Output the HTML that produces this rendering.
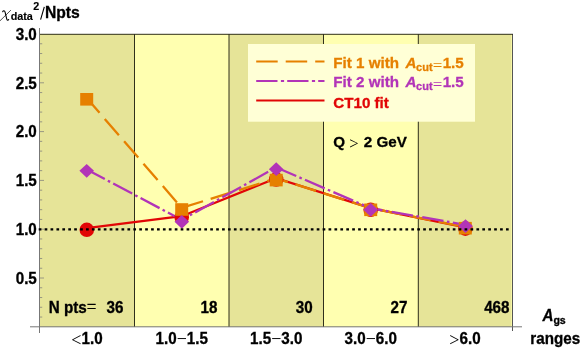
<!DOCTYPE html>
<html><head><meta charset="utf-8">
<style>
html,body{margin:0;padding:0;background:#fff;}
svg{display:block;will-change:transform;}
text{font-family:"Liberation Sans",sans-serif;font-weight:bold;fill:#000;stroke:#000;stroke-width:0.3px;}
.m{font-family:"Liberation Serif",serif;font-weight:normal;stroke:none;}
</style></head><body>
<svg width="581" height="348" viewBox="0 0 581 348">
<rect width="581" height="348" fill="#fff"/>
<!-- bands -->
<rect x="40" y="34" width="94.5" height="293" fill="#e6e498"/>
<rect x="134.5" y="34" width="94.5" height="293" fill="#ffffb0"/>
<rect x="229" y="34" width="94.5" height="293" fill="#e6e498"/>
<rect x="323.5" y="34" width="94.5" height="293" fill="#ffffb0"/>
<rect x="418" y="34" width="94.5" height="293" fill="#e6e498"/>
<rect x="511" y="34" width="1.2" height="293" fill="#f6f6a6"/>
<!-- dividers -->
<g stroke="#30301c" stroke-width="1">
<line x1="134.5" y1="34" x2="134.5" y2="327"/>
<line x1="229" y1="34" x2="229" y2="327"/>
<line x1="323.5" y1="34" x2="323.5" y2="327"/>
<line x1="418.3" y1="34" x2="418.3" y2="327"/>
<line x1="512.5" y1="34" x2="512.5" y2="331" stroke="#555"/>
<line x1="40" y1="34.3" x2="513" y2="34.3"/>
</g>
<!-- axes -->
<g stroke="#777" stroke-width="1">
<line x1="39.5" y1="28" x2="39.5" y2="333"/>
<line x1="30" y1="326.8" x2="522" y2="326.8"/>
</g>
<g stroke="#777" stroke-width="1" stroke-opacity="0.7"><line x1="40" x2="42.2" y1="317.04" y2="317.04"/><line x1="40" x2="42.2" y1="307.28" y2="307.28"/><line x1="40" x2="42.2" y1="297.52" y2="297.52"/><line x1="40" x2="42.2" y1="287.76" y2="287.76"/><line x1="40" x2="44" y1="278.00" y2="278.00"/><line x1="40" x2="42.2" y1="268.24" y2="268.24"/><line x1="40" x2="42.2" y1="258.48" y2="258.48"/><line x1="40" x2="42.2" y1="248.72" y2="248.72"/><line x1="40" x2="42.2" y1="238.96" y2="238.96"/><line x1="40" x2="44" y1="229.20" y2="229.20"/><line x1="40" x2="42.2" y1="219.44" y2="219.44"/><line x1="40" x2="42.2" y1="209.68" y2="209.68"/><line x1="40" x2="42.2" y1="199.92" y2="199.92"/><line x1="40" x2="42.2" y1="190.16" y2="190.16"/><line x1="40" x2="44" y1="180.40" y2="180.40"/><line x1="40" x2="42.2" y1="170.64" y2="170.64"/><line x1="40" x2="42.2" y1="160.88" y2="160.88"/><line x1="40" x2="42.2" y1="151.12" y2="151.12"/><line x1="40" x2="42.2" y1="141.36" y2="141.36"/><line x1="40" x2="44" y1="131.60" y2="131.60"/><line x1="40" x2="42.2" y1="121.84" y2="121.84"/><line x1="40" x2="42.2" y1="112.08" y2="112.08"/><line x1="40" x2="42.2" y1="102.32" y2="102.32"/><line x1="40" x2="42.2" y1="92.56" y2="92.56"/><line x1="40" x2="44" y1="82.80" y2="82.80"/><line x1="40" x2="42.2" y1="73.04" y2="73.04"/><line x1="40" x2="42.2" y1="63.28" y2="63.28"/><line x1="40" x2="42.2" y1="53.52" y2="53.52"/><line x1="40" x2="42.2" y1="43.76" y2="43.76"/></g>
<!-- legend box -->
<rect x="248" y="44" width="227" height="77.7" fill="#ffffd6"/>
<!-- series -->
<polyline points="86.7,228.1 181.7,216.2 276.2,178.2 370.7,208.2 465.4,227.3" fill="none" stroke="#e10606" stroke-width="2.3"/>
<polyline points="86.7,98.0 181.7,207.9 276.2,178.4 370.7,208.2 465.3,226.9" fill="none" stroke="#e68000" stroke-width="2.3" stroke-dasharray="21.6 8" stroke-dashoffset="2"/>
<polyline points="86.7,169.4 181.7,219.9 276.2,167.4 370.7,208.2 465.5,224.8" fill="none" stroke="#b234b8" stroke-width="2.3" stroke-dasharray="21.5 3.45 2.6 3.45" stroke-dashoffset="1"/>
<g fill="#e10606">
<circle cx="86.8" cy="229.8" r="7.3"/><circle cx="181.7" cy="217.5" r="7.3"/><circle cx="276.2" cy="179.5" r="7.3"/><circle cx="370.7" cy="209.8" r="7.3"/><circle cx="465.4" cy="228.6" r="7.3"/>
</g>
<g fill="#e68000">
<rect x="80.2" y="93" width="13" height="12.6"/><rect x="175.2" y="203.2" width="13" height="12.6"/><rect x="269.7" y="173.8" width="13" height="12.6"/><rect x="364.2" y="203.5" width="13" height="12.6"/><rect x="458.8" y="221.9" width="13" height="12.6"/>
</g>
<g fill="#b234b8">
<path d="M86.7 163.9 l7.3 6.9 -7.3 6.9 -7.3 -6.9z"/>
<path d="M181.8 214.9 l7.3 6.9 -7.3 6.9 -7.3 -6.9z"/>
<path d="M276.2 162.3 l7.3 6.9 -7.3 6.9 -7.3 -6.9z"/>
<path d="M370.7 202.9 l7.3 6.9 -7.3 6.9 -7.3 -6.9z"/>
<path d="M465.5 219.2 l7.3 6.9 -7.3 6.9 -7.3 -6.9z"/>
</g>
<!-- dotted line -->
<line x1="38.7" y1="229.4" x2="511" y2="229.4" stroke="#000" stroke-width="2.2" stroke-dasharray="2.7 3.215"/>
<!-- legend lines -->
<line x1="256.2" y1="61.5" x2="324.5" y2="61.5" stroke="#e68000" stroke-width="2.2" stroke-dasharray="21.5 8"/>
<line x1="256.2" y1="81" x2="324.5" y2="81" stroke="#b234b8" stroke-width="2.2" stroke-dasharray="21.3 3.4 3.2 3.1"/>
<line x1="256.2" y1="100.5" x2="324.5" y2="100.5" stroke="#e10606" stroke-width="2.2"/>
<!-- legend text -->
<text transform="translate(333.2 67.8) scale(1 0.98)" font-size="15.2" word-spacing="0" style="fill:#e68000;stroke:#e68000">Fit 1 with <tspan font-style="italic" dx="2.2">A</tspan><tspan font-size="11" dy="3" dx="-0.3">cut</tspan><tspan class="m" dy="-0.2" dx="0.3" font-size="17">=</tspan><tspan dy="-2.8" dx="0.2">1.5</tspan></text>
<text transform="translate(333.2 87.3) scale(1 0.98)" font-size="15.2" word-spacing="0" style="fill:#b234b8;stroke:#b234b8">Fit 2 with <tspan font-style="italic" dx="2.2">A</tspan><tspan font-size="11" dy="3" dx="-0.3">cut</tspan><tspan class="m" dy="-0.2" dx="0.3" font-size="17">=</tspan><tspan dy="-2.8" dx="0.2">1.5</tspan></text>
<text transform="translate(333.2 108.3) scale(1 0.98)" font-size="15.2" word-spacing="0" style="fill:#e10606;stroke:#e10606">CT10 fit</text>
<text transform="translate(333.2 147.3) scale(1 0.98)" font-size="15.2" word-spacing="0">Q <tspan class="m" font-size="16.8" dx="0" dy="1.6">&gt;</tspan><tspan dx="0.9" dy="-1.6"> 2 GeV</tspan></text>
<!-- y labels -->
<g font-size="15.2" text-anchor="end">
<text transform="translate(36.8 39.7) scale(1 1.08)">3.0</text>
<text transform="translate(36.8 88.5) scale(1 1.08)">2.5</text>
<text transform="translate(36.8 137.3) scale(1 1.08)">2.0</text>
<text transform="translate(36.8 186.1) scale(1 1.08)">1.5</text>
<text transform="translate(36.8 234.9) scale(1 1.08)">1.0</text>
<text transform="translate(36.8 283.7) scale(1 1.08)">0.5</text>
</g>
<!-- title -->
<g fill="none" stroke="#000" stroke-linecap="round"><path d="M0.2 20.6 L10.6 10.4" stroke-width="0.7"/><path d="M2.7 11.8 C3.2 10.5 4.6 10.3 5.1 12.2 L6.7 18.8 C7.1 20.6 8.1 20.7 8.7 19.5" stroke-width="1.1"/></g>
<text transform="translate(10.7 20.4) scale(1 1.02)" font-size="10.8" style="stroke-width:0.15px">data</text>
<text transform="translate(33.3 9.6) scale(1 1.02)" font-size="10.8" style="stroke-width:0.15px">2</text>
<line x1="40.6" y1="19.6" x2="44.3" y2="6.8" stroke="#000" stroke-width="1.1"/>
<text transform="translate(44.9 17.6) scale(1 1.04)" font-size="15.7">Npts</text>
<!-- N pts -->
<g font-size="15.2">
<text transform="translate(48.7 312.5) scale(1 1.07)">N pts<tspan class="m" font-size="17" style="stroke:#000;stroke-width:0.25px">=</tspan></text>
<text transform="translate(123.4 312.5) scale(1 1.07)" text-anchor="end">36</text>
<text transform="translate(217.5 312.5) scale(1 1.07)" text-anchor="end">18</text>
<text transform="translate(312.6 312.5) scale(1 1.07)" text-anchor="end">30</text>
<text transform="translate(407.5 312.5) scale(1 1.07)" text-anchor="end">27</text>
<text transform="translate(509.5 312.5) scale(1 1.07)" text-anchor="end">468</text>
</g>
<!-- x labels -->
<g font-size="15.2" text-anchor="middle">
<text transform="translate(87 344.4) scale(1 1.07)"><tspan class="m" font-size="18" dy="1.8">&lt;</tspan><tspan dy="-1.8">1.0</tspan></text>
<text transform="translate(181.7 344.4) scale(1 1.07)">1.0<tspan class="m" font-size="18" dy="1">−</tspan><tspan dy="-1">1.5</tspan></text>
<text transform="translate(276.2 344.4) scale(1 1.07)">1.5<tspan class="m" font-size="18" dy="1">−</tspan><tspan dy="-1">3.0</tspan></text>
<text transform="translate(370.7 344.4) scale(1 1.07)">3.0<tspan class="m" font-size="18" dy="1">−</tspan><tspan dy="-1">6.0</tspan></text>
<text transform="translate(465 344.4) scale(1 1.07)"><tspan class="m" font-size="18" dy="1.8">&gt;</tspan><tspan dy="-1.8">6.0</tspan></text>
</g>
<text transform="translate(542.4 321) scale(1 1.07)" font-size="15.2"><tspan font-style="italic">A</tspan><tspan font-size="10.6" dy="3.2">gs</tspan></text>
<text transform="translate(580.2 344.4) scale(1 1.07)" font-size="15.2" text-anchor="end">ranges</text>
</svg>
</body></html>
